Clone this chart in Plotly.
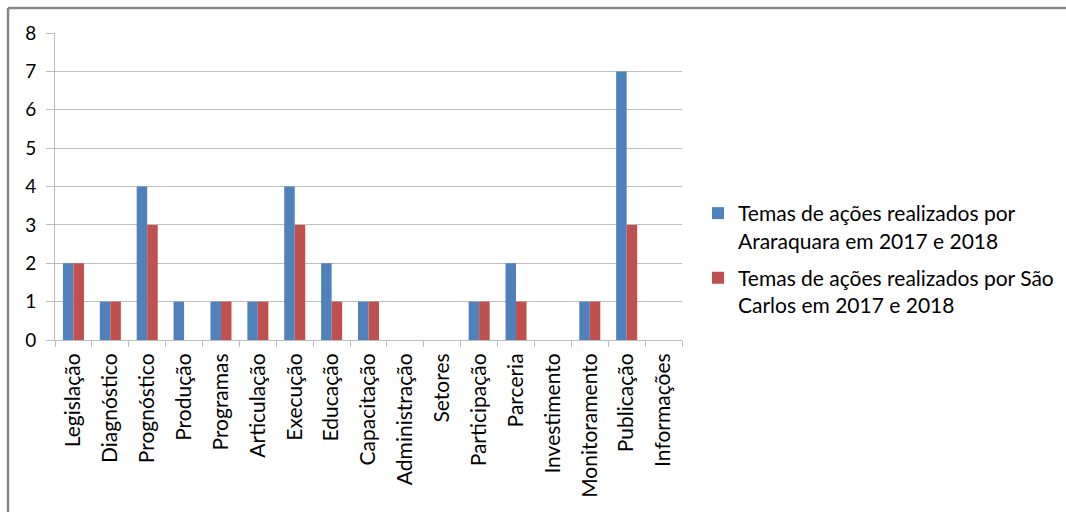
import plotly.graph_objects as go

categories = ["Legislação", "Diagnóstico", "Prognóstico", "Produção", "Programas",
              "Articulação", "Execução", "Educação", "Capacitação", "Administração",
              "Setores", "Participação", "Parceria", "Investimento", "Monitoramento",
              "Publicação", "Informações"]
araraquara = [2, 1, 4, 1, 1, 1, 4, 2, 1, 0, 0, 1, 2, 0, 1, 7, 0]
sao_carlos = [2, 1, 3, 0, 1, 1, 3, 1, 1, 0, 0, 1, 1, 0, 1, 3, 0]
series_names = ["Temas de ações realizados por<br>Araraquara em 2017 e 2018",
                "Temas de ações realizados por São<br>Carlos em 2017 e 2018"]
y_ticks = [0, 1, 2, 3, 4, 5, 6, 7, 8]

W, H = 1066, 512
L, R, T, B = 55, 682, 33, 340  # plot area in pixels
FONT = "Lato"
GRID = "#BDBDBD"

fig = go.Figure()
fig.add_trace(go.Bar(x=categories, y=araraquara, name=series_names[0], legendgroup="ara",
                     marker=dict(color="#4F81BD", line=dict(width=0))))
fig.add_trace(go.Bar(x=categories, y=sao_carlos, name=series_names[1], legendgroup="sc",
                     marker=dict(color="#C0504D", line=dict(width=0))))

# chart frame: top and left edges
def px_to_paper_x(px):
    return (px - L) / (R - L)

def px_to_paper_y(py):
    return (B - py) / (B - T)

frame = dict(color="#878787", width=2.5)
fig.add_shape(type="line", xref="paper", yref="paper",
              x0=px_to_paper_x(8), x1=px_to_paper_x(W), y0=px_to_paper_y(8), y1=px_to_paper_y(8),
              line=frame)
fig.add_shape(type="line", xref="paper", yref="paper",
              x0=px_to_paper_x(8), x1=px_to_paper_x(8), y0=px_to_paper_y(8), y1=px_to_paper_y(H),
              line=frame)

fig.update_layout(
    width=W, height=H,
    margin=dict(l=L, r=W - R, t=T, b=H - B, pad=0),
    paper_bgcolor="white", plot_bgcolor="white",
    barmode="group", bargap=0.43, bargroupgap=0,
    font=dict(family=FONT, size=18, color="#000000"),
    showlegend=True,
    legend=dict(xref="container", yref="container", x=698 / W, y=1 - 193 / H,
                xanchor="left", yanchor="top", valign="top",
                font=dict(family=FONT, size=21, color="#000000"),
                itemwidth=30, tracegroupgap=7, bgcolor="rgba(0,0,0,0)"),
    xaxis=dict(type="category", showgrid=False, showline=True, linecolor=GRID, linewidth=1,
               ticks="outside", tickson="boundaries", ticklen=6, tickcolor=GRID,
               ticklabelstandoff=4,
               tickangle=-90, tickfont=dict(family=FONT, size=21), fixedrange=True),
    yaxis=dict(range=[0, 8], tickvals=y_ticks, showgrid=True, gridcolor=GRID, gridwidth=1,
               showline=True, linecolor=GRID, linewidth=1, zeroline=False,
               ticks="outside", ticklen=8, tickcolor=GRID, ticklabelstandoff=6,
               tickfont=dict(family=FONT, size=19), fixedrange=True),
)

fig.write_html("out.html")
